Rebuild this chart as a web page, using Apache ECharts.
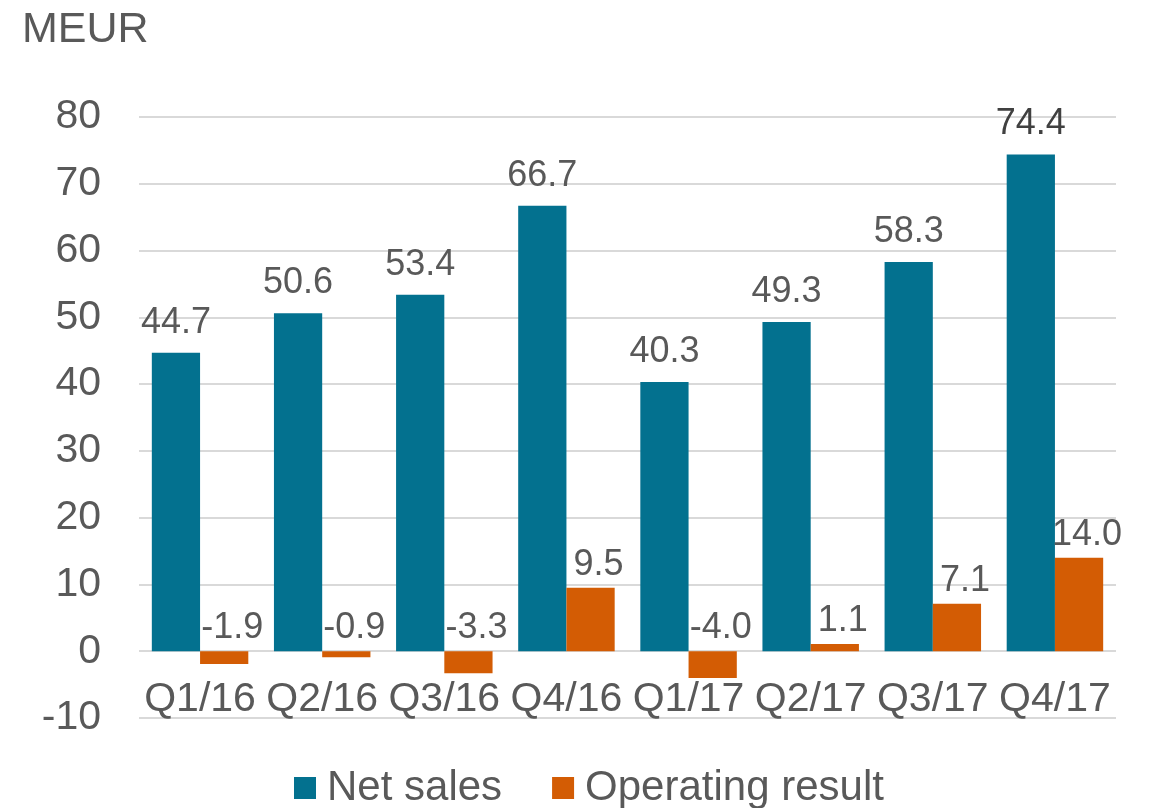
<!DOCTYPE html>
<html>
<head>
<meta charset="utf-8">
<script src="https://cdn.jsdelivr.net/npm/echarts@6/dist/echarts.min.js"></script>
<style>
  html, body { margin: 0; padding: 0; background: #fff; }
  #chart { width: 1158px; height: 808px; }
</style>
</head>
<body>
<div id="chart"></div>
<script>
// 数据
var quarters = ['Q1/16', 'Q2/16', 'Q3/16', 'Q4/16', 'Q1/17', 'Q2/17', 'Q3/17', 'Q4/17'];
var netSales = [44.7, 50.6, 53.4, 66.7, 40.3, 49.3, 58.3, 74.4];
var operatingResult = [-1.9, -0.9, -3.3, 9.5, -4.0, 1.1, 7.1, 14.0];
var yTicks = [-10, 0, 10, 20, 30, 40, 50, 60, 70, 80];

var font = 'Liberation Sans, Arial, sans-serif';
var grey = '#595959';

// 最后一个净销售额标签颜色更深
var netData = netSales.map(function (v, i) {
    if (i === netSales.length - 1) {
        return { value: v, label: { color: '#404040' } };
    }
    return v;
});

var myChart = echarts.init(document.getElementById('chart'));

var option = {
    animation: false,
    title: {
        text: 'MEUR',
        left: 17,
        top: 4,
        textStyle: { color: grey, fontSize: 43, fontWeight: 'normal', fontFamily: font }
    },
    legend: {
        left: 289,
        top: 762,
        itemWidth: 22,
        itemHeight: 22,
        itemGap: 50,
        icon: 'rect',
        textStyle: { color: grey, fontSize: 42, fontFamily: font, padding: [0, 0, 0, 6] },
        data: ['Net sales', 'Operating result']
    },
    grid: { left: 139, right: 42, top: 117, bottom: 90 },
    xAxis: {
        type: 'category',
        data: quarters,
        axisLine: { show: false },
        axisTick: { show: false },
        // 标签放在 0 线下方（而不是 -10 处）
        axisLabel: { color: grey, fontSize: 41, fontFamily: font, margin: -39, interval: 0 }
    },
    yAxis: {
        type: 'value',
        min: yTicks[0],
        max: yTicks[yTicks.length - 1],
        interval: 10,
        axisLine: { show: false },
        axisTick: { show: false },
        splitLine: { lineStyle: { color: '#d9d9d9', width: 2 } },
        axisLabel: { color: grey, fontSize: 41, fontFamily: font, margin: 38 }
    },
    series: [
        {
            name: 'Net sales',
            type: 'bar',
            data: netData,
            barGap: '0%',
            barCategoryGap: '21%',
            itemStyle: { color: '#03718f' },
            label: {
                show: true,
                position: 'top',
                distance: 12,
                color: grey,
                fontSize: 36,
                fontFamily: font,
                formatter: function (p) { return p.value.toFixed(1); }
            }
        },
        {
            name: 'Operating result',
            type: 'bar',
            data: operatingResult,
            barGap: '0%',
            barCategoryGap: '21%',
            itemStyle: { color: '#d35c04' },
            label: {
                show: true,
                position: 'top',
                distance: 5,
                offset: [8, 0],
                color: grey,
                fontSize: 36,
                fontFamily: font,
                formatter: function (p) { return p.value.toFixed(1); }
            }
        }
    ]
};

myChart.setOption(option);
</script>
</body>
</html>
